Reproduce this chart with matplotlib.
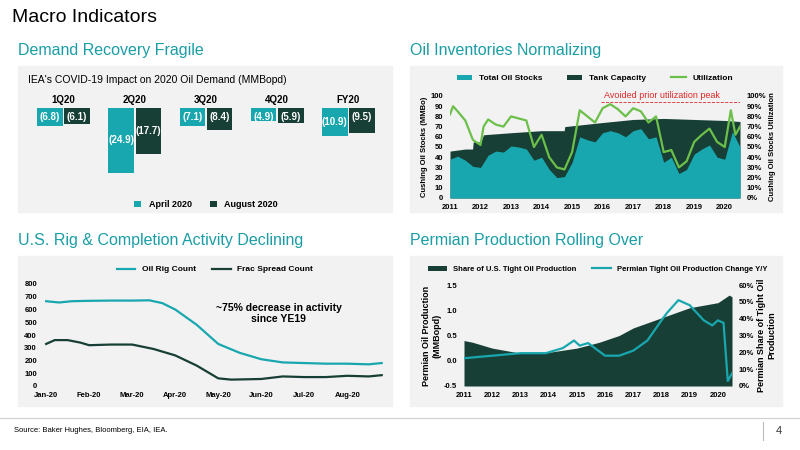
import numpy as np
import matplotlib
matplotlib.use("Agg")
from matplotlib import pyplot as plt
from matplotlib.patches import Rectangle

TEAL = '#19A7AF'
DARK = '#173F35'
GREEN = '#6CC04A'
HEAD = '#1A9DA5'
BG = '#F2F2F2'

# demand impact
quarters = ['1Q20', '2Q20', '3Q20', '4Q20', 'FY20']
april = [-6.8, -24.9, -7.1, -4.9, -10.9]
august = [-6.1, -17.7, -8.4, -5.9, -9.5]

# cushing
cap_x = [2011, 2011.5, 2011.74, 2011.76, 2012, 2012.1, 2013, 2014, 2014.74, 2014.76, 2016, 2017, 2018, 2019, 2020, 2020.5]
cap_y = [46, 48, 48, 55, 55, 62, 64, 66, 66, 70, 74, 77, 78, 77, 76, 75]
stk_x = [2011, 2011.25, 2011.5, 2011.75, 2012, 2012.25, 2012.5, 2012.75, 2013, 2013.25, 2013.5, 2013.75,
         2014, 2014.25, 2014.5, 2014.75, 2015, 2015.25, 2015.5, 2015.75, 2016, 2016.25, 2016.5, 2016.75,
         2017, 2017.25, 2017.5, 2017.75, 2018, 2018.25, 2018.5, 2018.75, 2019, 2019.25, 2019.5, 2019.75,
         2020, 2020.25, 2020.5]
stk_y = [38, 41, 37, 31, 30, 42, 46, 45, 51, 50, 48, 37, 40, 28, 20, 21, 35, 60, 57, 55, 64, 66, 64, 60,
         66, 68, 58, 60, 35, 40, 24, 28, 43, 48, 52, 40, 38, 65, 50]
utl_x = [2011, 2011.1, 2011.25, 2011.5, 2011.75, 2012, 2012.1, 2012.25, 2012.5, 2012.75, 2013, 2013.25,
         2013.5, 2013.75, 2014, 2014.25, 2014.5, 2014.75, 2015, 2015.25, 2015.5, 2015.75, 2016, 2016.25,
         2016.5, 2016.75, 2017, 2017.25, 2017.5, 2017.75, 2018, 2018.25, 2018.5, 2018.75, 2019, 2019.25,
         2019.5, 2019.75, 2020, 2020.2, 2020.35, 2020.5]
utl_y = [82, 90, 85, 76, 57, 52, 70, 77, 72, 70, 80, 78, 76, 50, 62, 40, 30, 28, 45, 86, 80, 74, 88, 92,
         87, 80, 88, 85, 74, 80, 45, 47, 30, 36, 55, 62, 68, 55, 50, 86, 62, 70]

# rigs
rig_months = ['Jan-20', 'Feb-20', 'Mar-20', 'Apr-20', 'May-20', 'Jun-20', 'Jul-20', 'Aug-20']
rig_x = [0, 0.3, 0.6, 1, 1.5, 2, 2.4, 2.7, 3, 3.5, 4, 4.5, 5, 5.5, 6, 6.5, 7, 7.5, 7.8]
rig_y = [665, 655, 665, 668, 670, 670, 672, 650, 600, 480, 330, 260, 210, 185, 180, 175, 175, 170, 180]
frac_x = [0, 0.2, 0.5, 0.8, 1, 1.5, 2, 2.5, 3, 3.5, 4, 4.3, 5, 5.5, 6, 6.5, 7, 7.5, 7.8]
frac_y = [330, 360, 360, 340, 320, 325, 325, 290, 240, 160, 60, 50, 55, 75, 70, 70, 80, 75, 85]

# permian
shr_x = [2011, 2011.3, 2012, 2013, 2014, 2015, 2015.8, 2016.5, 2017, 2018, 2019, 2020, 2020.4, 2020.5]
shr_y = [27, 26, 22.5, 19.5, 20, 22.5, 26, 30, 34.5, 40.5, 46.5, 49.5, 54, 53]
prd_x = [2011, 2012, 2013, 2013.9, 2014.5, 2014.9, 2015.1, 2015.4, 2016, 2016.5, 2017, 2017.5, 2018, 2018.2,
         2018.6, 2019, 2019.5, 2019.8, 2020, 2020.2, 2020.35, 2020.5]
prd_y = [0.05, 0.1, 0.15, 0.15, 0.25, 0.4, 0.3, 0.35, 0.1, 0.1, 0.2, 0.4, 0.8, 0.95, 1.2, 1.1, 0.8, 0.7,
         0.8, 0.75, -0.4, -0.25]

W, H = 800, 450
plt.rcParams['font.family'] = 'Liberation Sans'
plt.rcParams['axes.unicode_minus'] = False
plt.rcParams['axes.facecolor'] = 'none'
fig = plt.figure(figsize=(8, 4.5), dpi=100)


def box(x, y, w, h):
    return [x / W, 1 - (y + h) / H, w / W, h / H]


def small(ax):
    ax.tick_params(labelsize=5.5, length=0)
    ax.tick_params(axis='x', pad=4)
    ax.tick_params(axis='y', pad=5)
    for t in ax.get_xticklabels() + ax.get_yticklabels():
        t.set_fontweight('bold')


fig.text(12 / W, 1 - 18 / H, 'Macro Indicators', fontsize=14, va='center')
for x, y, s in [(18, 50, 'Demand Recovery Fragile'), (410, 50, 'Oil Inventories Normalizing'),
                (18, 240, 'U.S. Rig & Completion Activity Declining'), (410, 240, 'Permian Production Rolling Over')]:
    fig.text(x / W, 1 - y / H, s, fontsize=11.5, color=HEAD, va='center')
for x, y, w, h in [(18, 66, 374, 146), (410, 66, 372, 146), (18, 256, 374, 150), (410, 256, 372, 150)]:
    fig.patches.append(Rectangle((x / W, 1 - (y + h) / H), w / W, h / H, transform=fig.transFigure,
                                 color=BG, zorder=-5))

# top-left
fig.text(28 / W, 1 - 80 / H, "IEA's COVID-19 Impact on 2020 Oil Demand (MMBopd)", fontsize=7.5, va='center')
ax = fig.add_axes(box(28, 108, 356, 70))
xs = np.arange(len(quarters))
ax.bar(xs - 0.19, april, 0.36, color=TEAL, label='April 2020')
ax.bar(xs + 0.19, august, 0.36, color=DARK, label='August 2020')
for i in xs:
    ax.text(i - 0.19, april[i] / 2 if april[i] < -10 else -3.3, '(%.1f)' % -april[i], color='white',
            fontsize=7, fontweight='bold', ha='center', va='center')
    ax.text(i + 0.19, august[i] / 2 if august[i] < -10 else -3.3, '(%.1f)' % -august[i], color='white',
            fontsize=7, fontweight='bold', ha='center', va='center')
    ax.text(i, 3, quarters[i], fontsize=7, fontweight='bold', ha='center', va='center', clip_on=False)
ax.set_xlim(-0.5, 4.5)
ax.set_ylim(-27, 0)
ax.axis('off')
ax.legend(loc='upper center', bbox_to_anchor=(0.5, -0.2), ncol=2, frameon=False,
          handlelength=0.8, handleheight=0.8, prop={'weight': 'bold', 'size': 6.5})

# top-right
ax = fig.add_axes(box(450, 96, 290, 102))
ax.fill_between(cap_x, cap_y, color=DARK, label='Tank Capacity', lw=0)
ax.fill_between(stk_x, stk_y, color=TEAL, label='Total Oil Stocks', lw=0)
ax2 = ax.twinx()
ax2.plot(utl_x, utl_y, color=GREEN, lw=1.6, label='Utilization')
ax2.axhline(94, xmin=0.52, xmax=1, color='#E0262A', lw=0.6, ls='--')
ax2.text(2016.05, 96, 'Avoided prior utilization peak', color='#E0262A', fontsize=6.5, va='bottom')
for a in (ax, ax2):
    a.set_ylim(0, 100)
    a.set_xlim(2011, 2020.5)
    a.set_yticks(range(0, 101, 10))
    for s in a.spines.values():
        s.set_visible(False)
ax.set_xticks(range(2011, 2021))
ax2.set_yticklabels(['%d%%' % v for v in range(0, 101, 10)])
ax.set_ylabel('Cushing Oil Stocks (MMBo)', fontsize=5.5, fontweight='bold', labelpad=2)
ax2.set_ylabel('Cushing Oil Stocks Utilization', fontsize=5.5, fontweight='bold', labelpad=2)
small(ax); small(ax2)
h1, l1 = ax.get_legend_handles_labels()
h2, l2 = ax2.get_legend_handles_labels()
ax.legend([h1[1], h1[0], h2[0]], [l1[1], l1[0], l2[0]], loc='lower center', bbox_to_anchor=(0.5, 1.06),
          ncol=3, frameon=False, prop={'weight': 'bold', 'size': 6}, handlelength=1.8, handleheight=0.7,
          columnspacing=3)

# bottom-left
ax = fig.add_axes(box(44, 284, 342, 102))
ax.plot(rig_x, rig_y, color=TEAL, lw=1.6, label='Oil Rig Count')
ax.plot(frac_x, frac_y, color=DARK, lw=1.6, label='Frac Spread Count')
ax.set_ylim(0, 800)
ax.set_xlim(-0.05, 7.9)
ax.set_yticks(range(0, 801, 100))
ax.set_xticks(range(8))
ax.set_xticklabels(rig_months)
for s in ax.spines.values():
    s.set_visible(False)
small(ax)
ax.text(5.4, 570, '~75% decrease in activity\nsince YE19', fontsize=7.5, fontweight='bold', ha='center',
        va='center')
ax.legend(loc='lower center', bbox_to_anchor=(0.5, 1.03), ncol=2, frameon=False,
          prop={'weight': 'bold', 'size': 6}, handlelength=2.2, columnspacing=2)

# bottom-right
ax = fig.add_axes(box(464, 285, 268, 101))
ax2 = ax.twinx()
ax2.fill_between(shr_x, shr_y, color=DARK, lw=0, label='Share of U.S. Tight Oil Production')
ax.plot(prd_x, prd_y, color=TEAL, lw=1.6, label='Permian Tight Oil Production Change Y/Y', zorder=5)
ax.set_zorder(ax2.get_zorder() + 1)
ax.patch.set_visible(False)
ax.set_ylim(-0.5, 1.5)
ax.set_yticks([-0.5, 0, 0.5, 1, 1.5])
ax.set_yticklabels(['-0.5', '0.0', '0.5', '1.0', '1.5'])
ax2.set_ylim(0, 60)
ax2.set_yticks(range(0, 61, 10))
ax2.set_yticklabels(['%d%%' % v for v in range(0, 61, 10)])
ax.set_xlim(2011, 2020.5)
ax.set_xticks(range(2011, 2021))
for a in (ax, ax2):
    for s in a.spines.values():
        s.set_visible(False)
small(ax); small(ax2)
ax.set_ylabel('Permian Oil Production\n(MMBopd)', fontsize=6.5, fontweight='bold', labelpad=2)
ax2.set_ylabel('Permian Share of Tight Oil\nProduction', fontsize=6.5, fontweight='bold', labelpad=2)
h1, l1 = ax2.get_legend_handles_labels()
h2, l2 = ax.get_legend_handles_labels()
ax.legend(h1 + h2, l1 + l2, loc='lower center', bbox_to_anchor=(0.5, 1.05), ncol=2, frameon=False,
          prop={'weight': 'bold', 'size': 5.5}, handlelength=2.5, handleheight=0.7)

# footer
fig.add_artist(plt.Line2D([0, 1], [1 - 418 / H, 1 - 418 / H], color='#d0d0d0', lw=0.8))
fig.text(14 / W, 1 - 430 / H, 'Source: Baker Hughes, Bloomberg, EIA, IEA.', fontsize=5.5, va='center')
fig.add_artist(plt.Line2D([763 / W, 763 / W], [1 - 440 / H, 1 - 422 / H], color='#bbbbbb', lw=0.8))
fig.text(776 / W, 1 - 431 / H, '4', fontsize=8, va='center', color='#333333')

fig.savefig('out.png', dpi=100)
